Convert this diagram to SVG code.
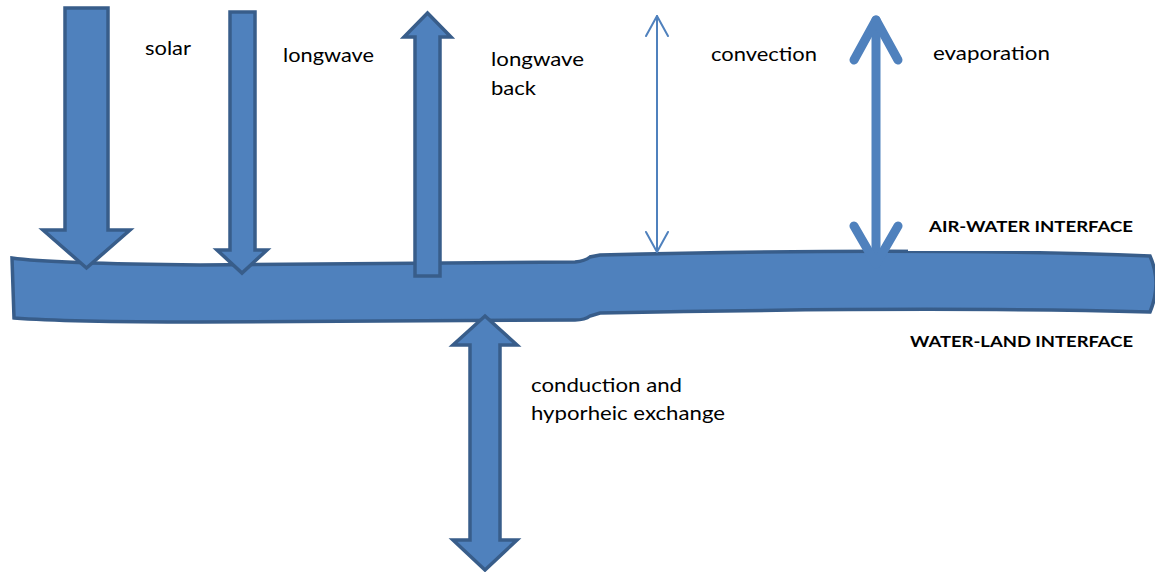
<svg xmlns="http://www.w3.org/2000/svg" width="1155" height="572" viewBox="0 0 1155 572">
<style>
.blk{fill:#4f81bd;stroke:#385d8a;stroke-width:3.5;stroke-linejoin:miter}
.lbl{font-family:Lato,"Open Sans","Liberation Sans",sans-serif;font-size:20px;fill:#000}
.bold{font-family:Lato,"Open Sans","Liberation Sans",sans-serif;font-size:16px;font-weight:bold;fill:#000}
.thin{fill:none;stroke:#4f81bd;stroke-width:2;stroke-linecap:round;stroke-linejoin:round}
.thick{fill:none;stroke:#4f81bd;stroke-width:9;stroke-linecap:round;stroke-linejoin:round}
</style>
<rect width="1155" height="572" fill="#fff"/>
<g id="water">
<path class="blk" d="M12,258 C40,262 100,264 200,265 L575,262 Q585,261 590,257 L600,255 C800,250 1000,250 1150,256 Q1162,283 1150,312 C1000,308 800,309 600,313 L590,316 Q585,320 575,320 L200,322 C100,322 40,320 14,318 Z"/>
</g>
<g id="air-water-box"><rect x="908" y="212" width="247" height="39" fill="#fff"/></g>
<g id="connectors">
<polygon id="solar-arrow" class="blk" points="65,8 108,8 108,230 130,230 86.5,268 43,230 65,230"/>
<polygon id="longwave-arrow" class="blk" points="230,12 255,12 255,250 267,250 242,273 217,250 230,250"/>
<polygon id="longwave-back-arrow" class="blk" points="427.5,13 451,37 440,37 440,276 415,276 415,37 404,37"/>
<polygon id="conduction-arrow" class="blk" points="485,316 517,345 500,345 500,540 517,540 485,570 453,540 470,540 470,345 453,345"/>
<g id="convection-arrow">
<line class="thin" x1="657" y1="16" x2="657" y2="252"/>
<polyline class="thin" points="646,36 657,16 668,36"/>
<polyline class="thin" points="646,232 657,252 668,232"/>
</g>
<g id="evaporation-arrow">
<line class="thick" x1="876" y1="20" x2="876" y2="262"/>
<polyline class="thick" points="854,60 876,20 898,60"/>
<polyline class="thick" points="854,226 876,264 898,226"/>
</g>
</g>
<g id="labels">
<text id="t-solar" class="lbl" x="145" y="55" textLength="46" lengthAdjust="spacingAndGlyphs">solar</text>
<text id="t-longwave" class="lbl" x="283" y="62" textLength="91" lengthAdjust="spacingAndGlyphs">longwave</text>
<text id="t-longwave-back" class="lbl" x="491" y="66"><tspan textLength="93" lengthAdjust="spacingAndGlyphs">longwave</tspan><tspan x="491" y="95" textLength="45" lengthAdjust="spacingAndGlyphs">back</tspan></text>
<text id="t-convection" class="lbl" x="711" y="61" textLength="106" lengthAdjust="spacingAndGlyphs">convection</text>
<text id="t-evaporation" class="lbl" x="933" y="60" textLength="117" lengthAdjust="spacingAndGlyphs">evaporation</text>
<text id="t-air" class="bold" x="929" y="232" textLength="204" lengthAdjust="spacingAndGlyphs">AIR-WATER INTERFACE</text>
<text id="t-land" class="bold" x="910" y="347" textLength="223" lengthAdjust="spacingAndGlyphs">WATER-LAND INTERFACE</text>
<text id="t-conduction" class="lbl" x="531" y="392"><tspan textLength="151" lengthAdjust="spacingAndGlyphs">conduction and</tspan><tspan x="531" y="420" textLength="194" lengthAdjust="spacingAndGlyphs">hyporheic exchange</tspan></text>
</g>
</svg>
